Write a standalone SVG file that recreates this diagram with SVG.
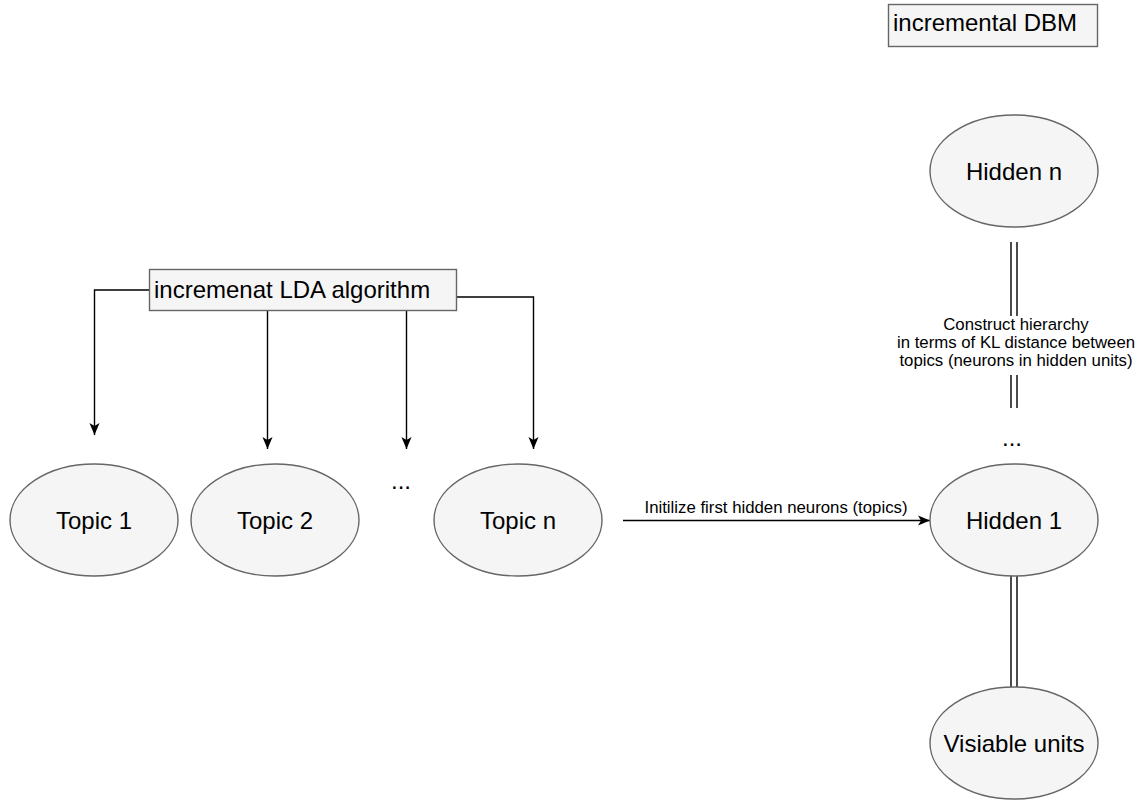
<svg xmlns="http://www.w3.org/2000/svg" width="1145" height="800" viewBox="0 0 1145 800">
  <style>
    .node { fill: #f5f5f5; stroke: #666666; stroke-width: 1.4; }
    .lbl { font-family: "Liberation Sans", Arial, Helvetica, sans-serif; fill: #000000; }
    .big { font-size: 24px; }
    .small { font-size: 16.8px; }
    .mid { text-anchor: middle; }
    .edge { fill: none; stroke: #000000; stroke-width: 1.4; }
  </style>
  <defs>
    <marker id="arrow" viewBox="0 0 10 10" refX="10" refY="5" markerWidth="12" markerHeight="12" markerUnits="userSpaceOnUse" orient="auto">
      <path d="M0,0.8 L10,5 L0,9.2 L2.5,5 z" fill="#000000"/>
    </marker>
  </defs>
  <rect width="1145" height="800" fill="#ffffff"/>

  <!-- connectors -->
  <g id="connectors">
    <path class="edge" d="M149,290 H94.5 V435" marker-end="url(#arrow)"/>
    <path class="edge" d="M267.5,311 V449" marker-end="url(#arrow)"/>
    <path class="edge" d="M406.5,311 V449" marker-end="url(#arrow)"/>
    <path class="edge" d="M457,297 H533.5 V449" marker-end="url(#arrow)"/>
    <path class="edge" d="M623,520.5 H930" marker-end="url(#arrow)"/>
    <!-- double links between layers -->
    <path class="edge" d="M1011,242 V316 M1017,242 V316"/>
    <path class="edge" d="M1011,375 V408 M1017,375 V408"/>
    <path class="edge" d="M1011,576 V687 M1017,576 V687"/>
    <text class="lbl small mid" x="776" y="513">Initilize first hidden neurons (topics)</text>
    <text class="lbl small mid" x="1016" y="329.5">Construct hierarchy</text>
    <text class="lbl small mid" x="1016" y="347.5">in terms of KL distance between</text>
    <text class="lbl small mid" x="1016" y="365.5">topics (neurons in hidden units)</text>
  </g>

  <g id="incremental-dbm">
    <rect class="node" x="888.5" y="4.5" width="209" height="42"/>
    <text class="lbl big" x="893" y="31">incremental DBM</text>
  </g>

  <g id="lda-algorithm">
    <rect class="node" x="149.5" y="269.5" width="307" height="41"/>
    <text class="lbl big" x="154" y="298">incremenat LDA algorithm</text>
  </g>

  <g id="topic-1">
    <ellipse class="node" cx="94" cy="520" rx="84" ry="56"/>
    <text class="lbl big mid" x="94" y="528.5">Topic 1</text>
  </g>
  <g id="topic-2">
    <ellipse class="node" cx="275" cy="520" rx="84" ry="56"/>
    <text class="lbl big mid" x="275" y="528.5">Topic 2</text>
  </g>
  <g id="topic-dots">
    <text class="lbl big mid" x="401" y="489">...</text>
  </g>
  <g id="topic-n">
    <ellipse class="node" cx="518" cy="520" rx="84" ry="56"/>
    <text class="lbl big mid" x="518" y="528.5">Topic n</text>
  </g>

  <g id="hidden-n">
    <ellipse class="node" cx="1014" cy="171" rx="84" ry="56"/>
    <text class="lbl big mid" x="1014" y="179.5">Hidden n</text>
  </g>
  <g id="hidden-dots">
    <text class="lbl big mid" x="1012" y="446">...</text>
  </g>
  <g id="hidden-1">
    <ellipse class="node" cx="1014" cy="520" rx="84" ry="56"/>
    <text class="lbl big mid" x="1014" y="528.5">Hidden 1</text>
  </g>
  <g id="visible-units">
    <ellipse class="node" cx="1014" cy="743" rx="84" ry="56"/>
    <text class="lbl big mid" x="1014" y="751.5">Visiable units</text>
  </g>
</svg>
